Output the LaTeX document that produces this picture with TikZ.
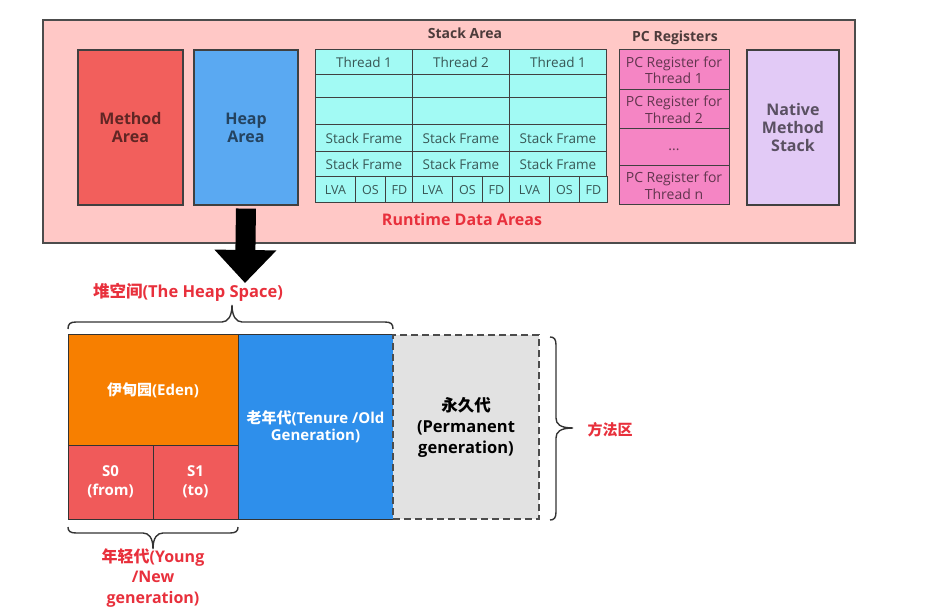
\documentclass[tikz,border=0pt]{standalone}
\usepackage{fontspec}
\setmainfont{Open Sans}
\newfontfamily\cjk{Noto Sans CJK SC}
\usetikzlibrary{arrows.meta}

\definecolor{rtpink}{HTML}{FFC8C6}
\definecolor{methodred}{HTML}{F25F5C}
\definecolor{heapblue}{HTML}{5AA9F2}
\definecolor{stackcyan}{HTML}{A2FAF4}
\definecolor{pcpink}{HTML}{F585C4}
\definecolor{nativelilac}{HTML}{E2CAF6}
\definecolor{labelred}{HTML}{E8303C}
\definecolor{edenorange}{HTML}{F77F00}
\definecolor{survred}{HTML}{F05A5A}
\definecolor{oldblue}{HTML}{2E8FEB}
\definecolor{permgray}{HTML}{E2E2E2}

\begin{document}
\begin{tikzpicture}[x=1pt,y=-1pt,
  area/.style={draw=black!75, line width=1.2pt, inner sep=0pt, align=center, text=black, text opacity=0.6, font=\bfseries\fontsize{16}{18}\selectfont},
  cell/.style={draw=black!75, fill=stackcyan, line width=1pt, inner sep=0pt, minimum width=97pt, text=black, text opacity=0.65, font=\fontsize{13.5}{15}\selectfont},
  pcreg/.style={draw=black!75, fill=pcpink, line width=1pt, inner sep=0pt, minimum width=110pt, align=center, text=black, text opacity=0.6, font=\fontsize{14}{16.5}\selectfont},
  title/.style={text=black, text opacity=0.7, font=\bfseries\fontsize{14}{16}\selectfont},
  gen/.style={draw=black!80, line width=1pt, inner sep=0pt, align=center, text=white, font=\bfseries\fontsize{15}{19}\selectfont},
  redlabel/.style={text=labelred, align=center, font=\bfseries\fontsize{16}{20.5}\selectfont},
  brace/.style={draw=black!80, line width=1.4pt}
]
\useasboundingbox (0,0) rectangle (939,609);

% runtime data areas
\node[draw=black!70, line width=1.2pt, fill=rtpink, minimum width=812pt, minimum height=223pt, inner sep=0pt] (RT) at (449,131.5) {};
\node[area, fill=methodred, minimum width=105pt, minimum height=155pt] (MA) at (130.5,127.5) {Method\\Area};
\node[area, fill=heapblue, minimum width=104pt, minimum height=155pt] (HA) at (246,127.5) {Heap\\Area};
\node[area, fill=nativelilac, minimum width=92pt, minimum height=155pt] (NMS) at (793,127.5) {Native\\Method\\Stack};

\node[title] (SA) at (465,33) {Stack Area};
\foreach \c/\x/\t in {a/315.5/Thread 1, b/412.5/Thread 2, c/509.5/Thread 1}{
  \node[cell, minimum height=25pt] (\c1) at (\x+48.5,62.5) {\t};
  \node[cell, minimum height=23pt] (\c2) at (\x+48.5,86.5) {};
  \node[cell, minimum height=27pt] (\c3) at (\x+48.5,111.5) {};
  \node[cell, minimum height=27pt] (\c4) at (\x+48.5,138.5) {Stack Frame};
  \node[cell, minimum height=25pt] (\c5) at (\x+48.5,164.5) {Stack Frame};
  \node[cell, minimum height=26pt, minimum width=40pt, font=\fontsize{12.5}{14}\selectfont] (\c6) at (\x+20,190) {LVA};
  \node[cell, minimum height=26pt, minimum width=30pt, font=\fontsize{12.5}{14}\selectfont] (\c7) at (\x+55,190) {OS};
  \node[cell, minimum height=26pt, minimum width=28pt, font=\fontsize{12.5}{14}\selectfont] (\c8) at (\x+84,190) {FD};
}

\node[title] (PC) at (675,38) {PC Registers};
\node[pcreg, minimum height=40pt] (pc1) at (674,70) {PC Register for\\Thread 1};
\node[pcreg, minimum height=39pt] (pc2) at (674,109.5) {PC Register for\\Thread 2};
\node[pcreg, minimum height=37pt] (pc3) at (674,147.5) {\raisebox{-6pt}{...}};
\node[pcreg, minimum height=39pt] (pcn) at (674,185.5) {PC Register for\\Thread n};

\node[text=labelred, font=\bfseries\fontsize{16}{19}\selectfont] (RDA) at (462,220) {Runtime Data Areas};

% heap space
\coordinate (tip) at (245,283);
\draw[line width=20pt, -{Triangle[width=60pt,length=33pt]}, shorten <=3pt] (HA.south) -- (tip);
\node[redlabel, font=\bfseries\fontsize{16.5}{20}\selectfont] (HS) at (188,292) {{\cjk 堆空间}(The Heap Space)};

\node[gen, fill=edenorange, minimum width=170pt, minimum height=110pt] (Eden) at (153,390) {{\cjk 伊甸园}(Eden)};
\node[gen, fill=survred, minimum width=85pt, minimum height=74pt] (S0) at (110.5,482) {S0\\(from)};
\node[gen, fill=survred, minimum width=85pt, minimum height=74pt] (S1) at (195.5,482) {S1\\(to)};
\node[gen, fill=oldblue, minimum width=155pt, minimum height=184pt] (Old) at (315.5,427) {\raisebox{2pt}{\shortstack{{\cjk 老年代}(Tenure /Old\\Generation)}}};
\node[gen, fill=permgray, draw=black!70, line width=2pt, dash pattern=on 7pt off 4pt, text=black, font=\bfseries\fontsize{16.5}{21}\selectfont, minimum width=146pt, minimum height=184pt] (Perm) at (466,427) {{\cjk 永久代}\\(Permanent\\generation)};

\draw[brace] (68,329) .. controls (68,324) and (70,322) .. (76,322) -- (222,322)
  .. controls (228,322) and (232,316) .. (232,305)
  .. controls (232,316) and (236,322) .. (242,322) -- (385,322)
  .. controls (391,322) and (393,324) .. (393,329);
\draw[brace] (68,527) .. controls (68,531) and (70,533) .. (76,533) -- (143,533)
  .. controls (149,533) and (153,538) .. (153,549)
  .. controls (153,538) and (157,533) .. (163,533) -- (230,533)
  .. controls (236,533) and (238,531) .. (238,527);
\draw[brace] (550,337) .. controls (554,337) and (556,339) .. (556,345) -- (556,418)
  .. controls (556,424) and (560,428) .. (573,428)
  .. controls (560,428) and (556,432) .. (556,438) -- (556,512)
  .. controls (556,518) and (554,520) .. (550,520);

\node[redlabel, font=\bfseries\fontsize{15}{18}\selectfont] (MS) at (610,430) {\cjk 方法区};
\node[redlabel] (YG) at (153,578) {{\cjk 年轻代}(Young\\/New\\generation)};

\end{tikzpicture}
\end{document}
